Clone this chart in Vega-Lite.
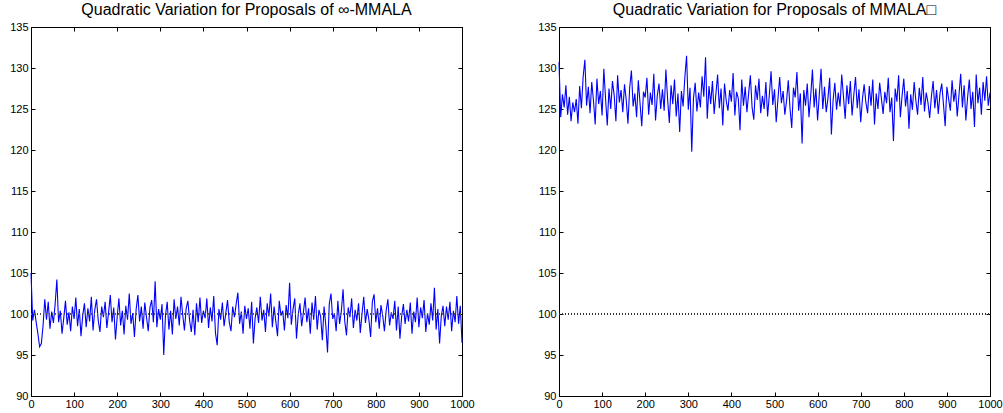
{
"$schema": "https://vega.github.io/schema/vega-lite/v6.json",
"padding": {"left": 9, "top": 1, "right": 0, "bottom": 0},
"background": "white",
"config": {
  "font": "Liberation Sans",
  "view": {"stroke": "black", "strokeWidth": 1},
  "axis": {"grid": false, "title": null, "domainColor": "black", "tickColor": "black", "labelColor": "black", "labelFontSize": 11, "labelFont": "Liberation Sans", "tickSize": -4, "labelPadding": 7, "domainWidth": 1, "tickWidth": 1, "format": "d"},
  "title": {"fontSize": 16, "fontWeight": "normal", "font": "Liberation Sans", "color": "black", "offset": 3}
},
"spacing": 62,
"datasets": {
"a": [
{"t":0,"q":105.0},{"t":4,"q":99.2},{"t":8,"q":100.5},{"t":12,"q":99.0},{"t":16,"q":97.6},{"t":20,"q":96.0},{"t":24,"q":96.4},{"t":28,"q":98.6},{"t":32,"q":101.8},{"t":36,"q":99.3},
{"t":40,"q":101.5},{"t":44,"q":98.2},{"t":48,"q":100.3},{"t":52,"q":98.9},{"t":56,"q":101.2},{"t":60,"q":104.2},{"t":64,"q":99.0},{"t":68,"q":100.4},{"t":72,"q":97.6},{"t":76,"q":99.5},
{"t":80,"q":101.6},{"t":84,"q":98.7},{"t":88,"q":100.2},{"t":92,"q":97.9},{"t":96,"q":100.9},{"t":100,"q":99.4},{"t":104,"q":102.0},{"t":108,"q":98.5},{"t":112,"q":100.6},{"t":116,"q":97.3},
{"t":120,"q":99.8},{"t":124,"q":101.3},{"t":128,"q":98.4},{"t":132,"q":100.7},{"t":136,"q":99.1},{"t":140,"q":102.1},{"t":144,"q":98.0},{"t":148,"q":100.5},{"t":152,"q":101.8},{"t":156,"q":99.2},
{"t":160,"q":97.8},{"t":164,"q":100.9},{"t":168,"q":99.6},{"t":172,"q":101.5},{"t":176,"q":98.3},{"t":180,"q":100.2},{"t":184,"q":102.3},{"t":188,"q":99.0},{"t":192,"q":100.8},{"t":196,"q":96.9},
{"t":200,"q":99.7},{"t":204,"q":101.9},{"t":208,"q":98.6},{"t":212,"q":100.4},{"t":216,"q":97.5},{"t":220,"q":101.0},{"t":224,"q":99.3},{"t":228,"q":102.5},{"t":232,"q":98.8},{"t":236,"q":100.1},
{"t":240,"q":97.2},{"t":244,"q":100.6},{"t":248,"q":102.3},{"t":252,"q":99.1},{"t":256,"q":100.9},{"t":260,"q":98.2},{"t":264,"q":101.4},{"t":268,"q":99.6},{"t":272,"q":97.9},{"t":276,"q":100.8},
{"t":280,"q":101.7},{"t":284,"q":99.0},{"t":288,"q":104.0},{"t":292,"q":98.4},{"t":296,"q":100.6},{"t":300,"q":99.3},{"t":304,"q":101.2},{"t":308,"q":95.0},{"t":312,"q":99.8},{"t":316,"q":101.5},
{"t":320,"q":98.1},{"t":324,"q":100.4},{"t":328,"q":97.5},{"t":332,"q":101.8},{"t":336,"q":99.4},{"t":340,"q":100.9},{"t":344,"q":98.6},{"t":348,"q":102.1},{"t":352,"q":99.9},{"t":356,"q":98.0},
{"t":360,"q":100.7},{"t":364,"q":101.6},{"t":368,"q":99.2},{"t":372,"q":97.8},{"t":376,"q":100.5},{"t":380,"q":97.4},{"t":384,"q":101.3},{"t":388,"q":99.0},{"t":392,"q":102.0},{"t":396,"q":98.9},
{"t":400,"q":100.4},{"t":404,"q":99.5},{"t":408,"q":101.9},{"t":412,"q":98.3},{"t":416,"q":100.8},{"t":420,"q":99.1},{"t":424,"q":102.2},{"t":428,"q":97.7},{"t":432,"q":96.2},{"t":436,"q":100.6},
{"t":440,"q":99.3},{"t":444,"q":101.4},{"t":448,"q":98.5},{"t":452,"q":100.1},{"t":456,"q":101.7},{"t":460,"q":99.0},{"t":464,"q":97.9},{"t":468,"q":100.9},{"t":472,"q":99.6},{"t":476,"q":101.2},
{"t":480,"q":102.6},{"t":484,"q":98.8},{"t":488,"q":100.3},{"t":492,"q":97.6},{"t":496,"q":101.0},{"t":500,"q":99.4},{"t":504,"q":100.7},{"t":508,"q":98.2},{"t":512,"q":101.5},{"t":516,"q":96.4},
{"t":520,"q":99.5},{"t":524,"q":100.8},{"t":528,"q":98.9},{"t":532,"q":102.1},{"t":536,"q":99.2},{"t":540,"q":100.5},{"t":544,"q":97.8},{"t":548,"q":101.3},{"t":552,"q":99.7},{"t":556,"q":102.5},
{"t":560,"q":98.4},{"t":564,"q":100.9},{"t":568,"q":99.1},{"t":572,"q":97.3},{"t":576,"q":101.6},{"t":580,"q":99.8},{"t":584,"q":100.4},{"t":588,"q":98.0},{"t":592,"q":101.1},{"t":596,"q":99.5},
{"t":600,"q":103.8},{"t":604,"q":98.7},{"t":608,"q":100.6},{"t":612,"q":101.9},{"t":616,"q":97.0},{"t":620,"q":99.9},{"t":624,"q":101.3},{"t":628,"q":98.5},{"t":632,"q":100.2},{"t":636,"q":102.0},
{"t":640,"q":99.0},{"t":644,"q":100.7},{"t":648,"q":97.6},{"t":652,"q":101.4},{"t":656,"q":99.3},{"t":660,"q":102.2},{"t":664,"q":98.1},{"t":668,"q":100.5},{"t":672,"q":99.7},{"t":676,"q":96.8},
{"t":680,"q":100.9},{"t":684,"q":98.6},{"t":688,"q":95.3},{"t":692,"q":101.2},{"t":696,"q":102.5},{"t":700,"q":99.4},{"t":704,"q":100.1},{"t":708,"q":97.9},{"t":712,"q":101.6},{"t":716,"q":98.8},
{"t":720,"q":100.3},{"t":724,"q":103.0},{"t":728,"q":99.1},{"t":732,"q":97.4},{"t":736,"q":100.8},{"t":740,"q":99.6},{"t":744,"q":101.9},{"t":748,"q":98.3},{"t":752,"q":100.5},{"t":756,"q":99.2},
{"t":760,"q":101.3},{"t":764,"q":97.7},{"t":768,"q":100.0},{"t":772,"q":102.1},{"t":776,"q":98.9},{"t":780,"q":100.6},{"t":784,"q":99.3},{"t":788,"q":97.2},{"t":792,"q":101.5},{"t":796,"q":102.4},
{"t":800,"q":99.0},{"t":804,"q":100.7},{"t":808,"q":98.2},{"t":812,"q":101.1},{"t":816,"q":99.8},{"t":820,"q":97.9},{"t":824,"q":100.4},{"t":828,"q":101.8},{"t":832,"q":98.6},{"t":836,"q":100.2},
{"t":840,"q":99.4},{"t":844,"q":101.6},{"t":848,"q":98.0},{"t":852,"q":100.9},{"t":856,"q":97.0},{"t":860,"q":99.7},{"t":864,"q":101.2},{"t":868,"q":98.8},{"t":872,"q":100.5},{"t":876,"q":99.1},
{"t":880,"q":101.4},{"t":884,"q":97.6},{"t":888,"q":100.3},{"t":892,"q":99.0},{"t":896,"q":102.0},{"t":900,"q":98.4},{"t":904,"q":100.8},{"t":908,"q":99.5},{"t":912,"q":101.7},{"t":916,"q":97.8},
{"t":920,"q":100.1},{"t":924,"q":98.7},{"t":928,"q":101.3},{"t":932,"q":99.2},{"t":936,"q":103.2},{"t":940,"q":98.1},{"t":944,"q":100.6},{"t":948,"q":96.4},{"t":952,"q":99.8},{"t":956,"q":101.0},
{"t":960,"q":98.5},{"t":964,"q":100.9},{"t":968,"q":99.3},{"t":972,"q":101.5},{"t":976,"q":97.9},{"t":980,"q":100.4},{"t":984,"q":99.0},{"t":988,"q":102.2},{"t":992,"q":98.8},{"t":996,"q":101.0},
{"t":1000,"q":96.5}
],
"b": [
{"t":0,"q":130.7},{"t":4,"q":124.0},{"t":8,"q":126.8},{"t":12,"q":125.2},{"t":16,"q":127.9},{"t":20,"q":124.3},{"t":24,"q":126.5},{"t":28,"q":123.5},{"t":32,"q":125.8},{"t":36,"q":124.6},
{"t":40,"q":126.2},{"t":44,"q":123.2},{"t":48,"q":127.8},{"t":52,"q":125.1},{"t":56,"q":128.9},{"t":60,"q":131.0},{"t":64,"q":125.4},{"t":68,"q":127.7},{"t":72,"q":124.5},{"t":76,"q":128.3},
{"t":80,"q":126.0},{"t":84,"q":123.1},{"t":88,"q":128.7},{"t":92,"q":125.6},{"t":96,"q":127.2},{"t":100,"q":124.2},{"t":104,"q":129.9},{"t":108,"q":126.3},{"t":112,"q":123.0},{"t":116,"q":127.5},
{"t":120,"q":125.0},{"t":124,"q":128.4},{"t":128,"q":126.7},{"t":132,"q":123.5},{"t":136,"q":129.1},{"t":140,"q":125.8},{"t":144,"q":127.3},{"t":148,"q":124.6},{"t":152,"q":128.0},{"t":156,"q":126.1},
{"t":160,"q":123.2},{"t":164,"q":127.6},{"t":168,"q":129.7},{"t":172,"q":125.3},{"t":176,"q":126.9},{"t":180,"q":124.0},{"t":184,"q":128.5},{"t":188,"q":125.7},{"t":192,"q":122.9},{"t":196,"q":127.1},
{"t":200,"q":126.4},{"t":204,"q":128.8},{"t":208,"q":124.3},{"t":212,"q":127.0},{"t":216,"q":125.5},{"t":220,"q":129.3},{"t":224,"q":123.6},{"t":228,"q":126.6},{"t":232,"q":128.1},{"t":236,"q":125.0},
{"t":240,"q":127.4},{"t":244,"q":124.8},{"t":248,"q":129.8},{"t":252,"q":126.2},{"t":256,"q":123.3},{"t":260,"q":127.9},{"t":264,"q":125.6},{"t":268,"q":128.6},{"t":272,"q":124.1},{"t":276,"q":126.9},
{"t":280,"q":122.2},{"t":284,"q":127.2},{"t":288,"q":125.3},{"t":292,"q":128.9},{"t":296,"q":131.5},{"t":300,"q":124.9},{"t":304,"q":127.6},{"t":308,"q":119.8},{"t":312,"q":126.3},{"t":316,"q":128.2},
{"t":320,"q":124.7},{"t":324,"q":127.0},{"t":328,"q":125.2},{"t":332,"q":129.0},{"t":336,"q":126.5},{"t":340,"q":131.3},{"t":344,"q":123.8},{"t":348,"q":127.8},{"t":352,"q":125.6},{"t":356,"q":128.4},
{"t":360,"q":124.4},{"t":364,"q":126.8},{"t":368,"q":129.2},{"t":372,"q":125.1},{"t":376,"q":127.5},{"t":380,"q":123.0},{"t":384,"q":128.1},{"t":388,"q":126.0},{"t":392,"q":124.8},{"t":396,"q":127.3},
{"t":400,"q":125.9},{"t":404,"q":129.4},{"t":408,"q":124.2},{"t":412,"q":127.1},{"t":416,"q":126.3},{"t":420,"q":122.4},{"t":424,"q":128.6},{"t":428,"q":125.4},{"t":432,"q":127.7},{"t":436,"q":124.6},
{"t":440,"q":126.9},{"t":444,"q":129.1},{"t":448,"q":125.2},{"t":452,"q":123.7},{"t":456,"q":127.9},{"t":460,"q":126.1},{"t":464,"q":128.7},{"t":468,"q":124.5},{"t":472,"q":126.6},{"t":476,"q":125.0},
{"t":480,"q":128.3},{"t":484,"q":124.1},{"t":488,"q":126.7},{"t":492,"q":129.6},{"t":496,"q":125.5},{"t":500,"q":127.4},{"t":504,"q":123.4},{"t":508,"q":126.2},{"t":512,"q":128.9},{"t":516,"q":125.7},
{"t":520,"q":127.2},{"t":524,"q":124.3},{"t":528,"q":126.0},{"t":532,"q":128.5},{"t":536,"q":125.1},{"t":540,"q":122.7},{"t":544,"q":127.6},{"t":548,"q":126.4},{"t":552,"q":129.5},{"t":556,"q":124.8},
{"t":560,"q":126.9},{"t":564,"q":120.8},{"t":568,"q":127.3},{"t":572,"q":125.4},{"t":576,"q":128.1},{"t":580,"q":124.0},{"t":584,"q":126.6},{"t":588,"q":129.8},{"t":592,"q":125.2},{"t":596,"q":127.5},
{"t":600,"q":123.6},{"t":604,"q":126.8},{"t":608,"q":129.9},{"t":612,"q":125.0},{"t":616,"q":127.7},{"t":620,"q":124.6},{"t":624,"q":126.3},{"t":628,"q":128.8},{"t":632,"q":121.9},{"t":636,"q":126.1},
{"t":640,"q":128.2},{"t":644,"q":124.9},{"t":648,"q":127.0},{"t":652,"q":125.3},{"t":656,"q":129.2},{"t":660,"q":126.5},{"t":664,"q":123.8},{"t":668,"q":127.9},{"t":672,"q":125.6},{"t":676,"q":128.4},
{"t":680,"q":124.2},{"t":684,"q":126.7},{"t":688,"q":128.9},{"t":692,"q":125.1},{"t":696,"q":127.4},{"t":700,"q":123.4},{"t":704,"q":126.2},{"t":708,"q":128.0},{"t":712,"q":125.8},{"t":716,"q":124.5},
{"t":720,"q":127.8},{"t":724,"q":125.4},{"t":728,"q":128.6},{"t":732,"q":123.1},{"t":736,"q":126.9},{"t":740,"q":125.0},{"t":744,"q":128.2},{"t":748,"q":126.3},{"t":752,"q":124.4},{"t":756,"q":127.1},
{"t":760,"q":125.7},{"t":764,"q":128.8},{"t":768,"q":124.6},{"t":772,"q":126.4},{"t":776,"q":121.1},{"t":780,"q":127.5},{"t":784,"q":125.9},{"t":788,"q":129.1},{"t":792,"q":124.0},{"t":796,"q":126.6},
{"t":800,"q":128.7},{"t":804,"q":125.3},{"t":808,"q":127.2},{"t":812,"q":122.6},{"t":816,"q":126.8},{"t":820,"q":124.9},{"t":824,"q":128.3},{"t":828,"q":126.0},{"t":832,"q":124.3},{"t":836,"q":127.6},
{"t":840,"q":125.5},{"t":844,"q":128.9},{"t":848,"q":124.7},{"t":852,"q":127.0},{"t":856,"q":125.8},{"t":860,"q":123.9},{"t":864,"q":126.5},{"t":868,"q":128.4},{"t":872,"q":125.1},{"t":876,"q":127.3},
{"t":880,"q":124.4},{"t":884,"q":126.9},{"t":888,"q":128.1},{"t":892,"q":125.6},{"t":896,"q":122.9},{"t":900,"q":127.7},{"t":904,"q":126.2},{"t":908,"q":124.8},{"t":912,"q":128.5},{"t":916,"q":125.9},
{"t":920,"q":127.4},{"t":924,"q":124.1},{"t":928,"q":126.7},{"t":932,"q":129.3},{"t":936,"q":125.2},{"t":940,"q":127.9},{"t":944,"q":123.6},{"t":948,"q":126.4},{"t":952,"q":128.6},{"t":956,"q":125.0},
{"t":960,"q":127.1},{"t":964,"q":122.8},{"t":968,"q":129.2},{"t":972,"q":125.7},{"t":976,"q":127.6},{"t":980,"q":124.3},{"t":984,"q":128.3},{"t":988,"q":126.0},{"t":992,"q":129.0},{"t":996,"q":125.4},
{"t":1000,"q":127.0}
]
},
"hconcat": [
{
  "width": 431, "height": 369,
  "title": "Quadratic Variation for Proposals of ∞-MMALA",
  "data": {"name": "a"},
  "layer": [
    {"mark": {"type": "line", "color": "#0000ff", "strokeWidth": 1.1},
     "encoding": {
       "x": {"field": "t", "type": "quantitative", "scale": {"domain": [0, 1000], "nice": false}, "axis": {"values": [0,100,200,300,400,500,600,700,800,900,1000], "labelFlush": false, "labelPadding": 6}},
       "y": {"field": "q", "type": "quantitative", "scale": {"domain": [90, 135], "nice": false, "zero": false}, "axis": {"values": [90,95,100,105,110,115,120,125,130,135]}}
     }},
    {"mark": {"type": "rule", "color": "#555555", "strokeDash": [1, 2], "strokeWidth": 0.8},
     "encoding": {
       "x": {"datum": 0, "type": "quantitative", "axis": {"orient": "top", "labels": false, "values": [0,100,200,300,400,500,600,700,800,900,1000]}},
       "x2": {"datum": 1000},
       "y": {"datum": 100, "type": "quantitative", "axis": {"orient": "right", "labels": false, "values": [90,95,100,105,110,115,120,125,130,135]}}
     }}
  ],
  "resolve": {"axis": {"x": "independent", "y": "independent"}}
},
{
  "width": 431, "height": 369,
  "title": "Quadratic Variation for Proposals of MMALA□",
  "data": {"name": "b"},
  "layer": [
    {"mark": {"type": "line", "color": "#0000ff", "strokeWidth": 1.1},
     "encoding": {
       "x": {"field": "t", "type": "quantitative", "scale": {"domain": [0, 1000], "nice": false}, "axis": {"values": [0,100,200,300,400,500,600,700,800,900,1000], "labelFlush": false, "labelPadding": 6}},
       "y": {"field": "q", "type": "quantitative", "scale": {"domain": [90, 135], "nice": false, "zero": false}, "axis": {"values": [90,95,100,105,110,115,120,125,130,135]}}
     }},
    {"mark": {"type": "rule", "color": "#333333", "strokeDash": [1, 2], "strokeWidth": 0.8},
     "encoding": {
       "x": {"datum": 0, "type": "quantitative", "axis": {"orient": "top", "labels": false, "values": [0,100,200,300,400,500,600,700,800,900,1000]}},
       "x2": {"datum": 1000},
       "y": {"datum": 100, "type": "quantitative", "axis": {"orient": "right", "labels": false, "values": [90,95,100,105,110,115,120,125,130,135]}}
     }}
  ],
  "resolve": {"axis": {"x": "independent", "y": "independent"}}
}
]
}
